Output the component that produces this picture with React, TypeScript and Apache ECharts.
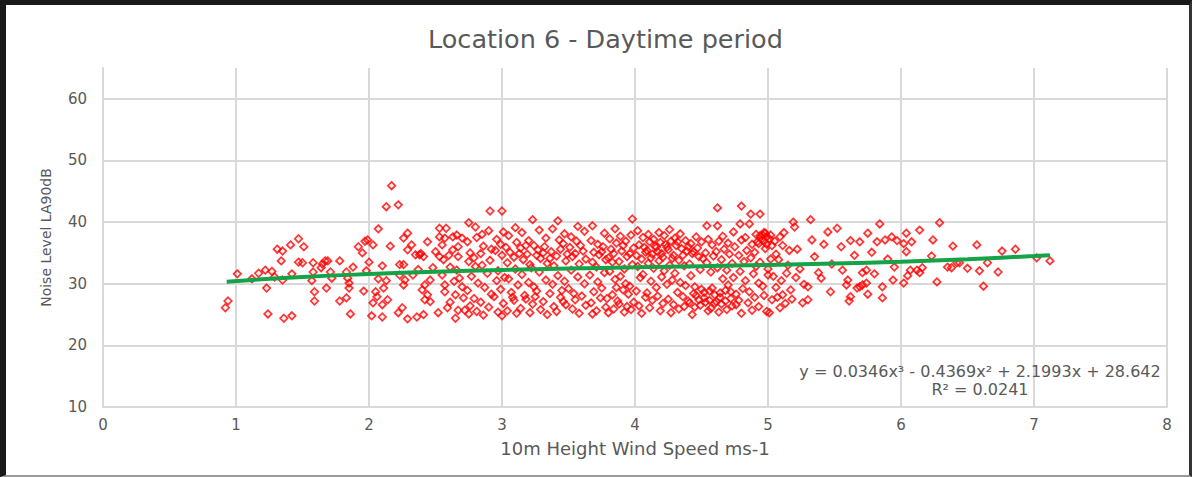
import { useEffect, useRef } from "react";
import * as echarts from "echarts";

const FONT = "'DejaVu Sans', sans-serif";
const TEXT = "#595959";
const GRID = "#d9d9d9";

const titleText = "Location 6 - Daytime period";
const xAxisName = "10m Height Wind Speed ms-1";
const yAxisName = "Noise Level LA90dB";
const equationText = "y = 0.0346x³ - 0.4369x² + 2.1993x + 28.642";
const r2Text = "R² = 0.0241";

// Wind speed 0.9 – 2.25 m/s
const windBand1: [number, number][] = [
  [0.92, 26.1], [0.94, 27.2], [1.01, 31.6], [1.12, 30.8], [1.17, 31.7], [1.22, 32.2], [1.23, 29.3],
  [1.24, 25.1], [1.27, 32.0], [1.29, 31.1], [1.31, 35.6], [1.34, 33.7], [1.35, 35.3], [1.35, 30.6],
  [1.36, 24.4], [1.41, 36.3], [1.42, 31.6], [1.42, 24.8], [1.47, 37.3], [1.47, 33.5], [1.5, 33.4],
  [1.51, 36.0], [1.57, 30.5], [1.58, 33.4], [1.58, 31.9], [1.59, 28.7], [1.59, 27.2], [1.64, 32.6],
  [1.65, 33.2], [1.67, 33.7], [1.68, 29.3], [1.69, 33.7], [1.71, 31.9], [1.72, 30.9], [1.78, 33.7],
  [1.78, 27.2], [1.83, 31.9], [1.83, 27.7], [1.84, 30.9], [1.85, 30.1], [1.85, 29.3], [1.86, 25.1],
  [1.88, 32.7], [1.92, 36.0], [1.95, 35.0], [1.96, 28.8], [1.97, 36.9], [1.98, 32.1], [1.99, 37.1],
  [2.0, 33.5], [2.02, 24.8], [2.03, 36.3], [2.03, 26.9], [2.05, 28.7], [2.06, 27.9], [2.07, 38.9],
  [2.07, 30.8], [2.1, 32.9], [2.1, 26.6], [2.1, 24.6], [2.11, 29.3], [2.13, 42.5], [2.13, 30.5],
  [2.14, 27.4], [2.16, 36.1], [2.17, 45.9], [2.22, 42.8], [2.22, 25.3], [2.23, 33.1], [2.23, 31.4],
];

// Wind speed 2.25 – 2.72 m/s
const windBand2: [number, number][] = [
  [2.25, 26.1], [2.26, 37.4], [2.26, 33.1], [2.26, 29.8], [2.27, 30.6], [2.29, 38.2], [2.29, 35.5],
  [2.29, 24.3], [2.32, 36.3], [2.33, 31.4], [2.35, 34.7], [2.36, 24.6], [2.37, 32.3], [2.38, 34.7],
  [2.4, 29.0], [2.41, 34.4], [2.41, 25.0], [2.42, 29.8], [2.42, 27.4], [2.44, 28.2], [2.44, 36.8],
  [2.46, 30.6], [2.46, 27.1], [2.48, 32.6], [2.5, 35.2], [2.52, 25.3], [2.53, 39.0], [2.53, 37.6],
  [2.53, 34.4], [2.55, 36.3], [2.55, 31.4], [2.56, 33.9], [2.57, 37.4], [2.57, 29.8], [2.57, 28.7],
  [2.58, 39.0], [2.59, 26.1], [2.61, 27.0], [2.61, 32.7], [2.63, 37.6], [2.63, 35.5], [2.65, 28.2],
  [2.65, 24.4], [2.66, 37.9], [2.66, 32.2], [2.67, 36.0], [2.67, 34.4], [2.67, 25.7], [2.68, 30.9],
  [2.7, 37.4], [2.7, 29.5], [2.71, 27.7], [2.72, 25.7], [2.39, 34.9], [2.6, 34.6], [2.64, 30.4],
];

// Wind speed 2.72 – 3.65 m/s
const windBand3: [number, number][] = [
  [2.75, 39.9], [2.74, 36.8], [2.76, 35.0], [2.75, 33.6], [2.77, 31.2], [2.74, 28.9], [2.76, 26.4], [2.75, 25.1],
  [2.8, 39.2], [2.81, 37.5], [2.79, 34.2], [2.8, 32.8], [2.82, 30.1], [2.79, 27.6], [2.81, 25.5],
  [2.85, 38.0], [2.86, 36.1], [2.84, 34.9], [2.85, 33.0], [2.87, 29.4], [2.84, 27.0], [2.86, 24.9],
  [2.91, 41.8], [2.9, 38.6], [2.92, 35.6], [2.91, 33.8], [2.89, 31.7], [2.92, 28.3], [2.9, 26.2],
  [2.96, 37.2], [2.95, 35.4], [2.97, 32.1], [2.96, 30.5], [2.94, 27.9], [2.97, 25.4],
  [3.0, 41.8], [3.01, 38.4], [2.99, 36.4], [3.0, 34.6], [3.02, 31.0], [2.99, 29.1], [3.01, 26.8], [3.0, 24.8],
  [3.05, 37.8], [3.06, 35.1], [3.04, 33.4], [3.05, 30.8], [3.07, 28.6], [3.04, 25.6],
  [3.1, 39.1], [3.11, 36.7], [3.09, 34.3], [3.1, 32.4], [3.12, 29.8], [3.09, 27.3], [3.11, 25.2],
  [3.15, 38.3], [3.14, 35.8], [3.16, 33.9], [3.15, 31.5], [3.17, 28.1], [3.14, 26.0],
  [3.2, 37.0], [3.19, 34.8], [3.21, 33.1], [3.2, 30.2], [3.18, 27.5], [3.21, 25.3],
  [3.23, 40.4], [3.24, 36.2], [3.22, 32.6], [3.24, 29.5], [3.23, 26.7],
  [3.28, 38.7], [3.27, 35.5], [3.29, 34.1], [3.28, 31.9], [3.26, 28.8], [3.29, 25.8],
  [3.33, 37.4], [3.32, 36.0], [3.34, 33.3], [3.33, 30.6], [3.31, 27.1], [3.34, 25.0],
  [3.38, 38.9], [3.37, 35.2], [3.39, 32.9], [3.38, 29.9], [3.36, 28.4], [3.39, 26.3],
  [3.42, 40.2], [3.43, 37.1], [3.41, 34.5], [3.42, 31.3], [3.44, 27.8], [3.41, 25.5],
  [3.47, 38.1], [3.46, 36.5], [3.48, 33.7], [3.47, 30.4], [3.45, 28.9], [3.48, 26.6],
  [3.52, 37.6], [3.51, 35.9], [3.53, 34.4], [3.52, 32.2], [3.5, 29.2], [3.53, 25.9],
  [3.57, 39.3], [3.56, 36.9], [3.58, 33.2], [3.57, 31.1], [3.55, 27.4], [3.58, 25.2],
  [3.62, 38.5], [3.61, 35.3], [3.63, 34.0], [3.62, 30.0], [3.6, 28.0], [3.63, 26.5],
  [3.03, 35.9], [3.13, 34.9], [3.18, 36.2], [3.26, 34.6], [3.31, 35.0], [3.36, 34.1], [3.44, 35.6],
  [3.49, 34.8], [3.55, 34.9], [3.59, 36.2], [3.08, 27.8], [3.25, 27.9], [3.46, 27.1], [3.54, 28.4],
];

// Wind speed 3.65 – 5.05 m/s
const windBand4: [number, number][] = [
  [3.68, 39.4], [3.67, 37.0], [3.69, 35.1], [3.68, 33.5], [3.66, 31.4], [3.69, 28.7], [3.67, 26.9], [3.68, 25.1],
  [3.72, 36.4], [3.73, 34.7], [3.71, 32.7], [3.72, 30.3], [3.74, 27.7], [3.71, 25.6],
  [3.77, 38.2], [3.76, 36.0], [3.78, 33.9], [3.77, 31.8], [3.75, 29.3], [3.78, 26.2],
  [3.81, 37.3], [3.82, 35.6], [3.8, 34.2], [3.81, 32.0], [3.83, 28.2], [3.8, 25.3],
  [3.85, 38.9], [3.86, 36.6], [3.84, 34.9], [3.85, 30.7], [3.87, 27.2], [3.84, 25.9],
  [3.89, 37.7], [3.9, 35.3], [3.88, 33.6], [3.89, 31.2], [3.91, 29.0], [3.88, 26.7],
  [3.93, 36.9], [3.94, 34.4], [3.92, 32.4], [3.93, 30.0], [3.95, 28.3], [3.92, 25.4],
  [3.98, 40.5], [3.97, 37.9], [3.99, 35.8], [3.98, 33.1], [3.96, 29.6], [3.99, 27.0], [3.97, 25.8],
  [4.02, 38.6], [4.03, 36.3], [4.01, 34.6], [4.02, 32.8], [4.04, 31.0], [4.01, 28.8], [4.03, 26.4],
  [4.06, 37.5], [4.07, 35.9], [4.05, 34.0], [4.06, 31.5], [4.08, 27.8], [4.05, 25.2],
  [4.1, 38.0], [4.11, 36.8], [4.09, 35.4], [4.1, 33.3], [4.12, 30.4], [4.09, 28.5], [4.11, 26.1],
  [4.14, 37.2], [4.15, 36.1], [4.13, 34.8], [4.14, 32.5], [4.16, 29.4], [4.13, 27.3],
  [4.18, 38.3], [4.19, 36.7], [4.17, 35.2], [4.18, 33.7], [4.2, 31.1], [4.17, 28.0], [4.19, 25.6],
  [4.22, 37.8], [4.23, 36.4], [4.21, 34.3], [4.22, 32.1], [4.24, 29.9], [4.21, 26.8],
  [4.26, 38.8], [4.27, 36.9], [4.25, 35.5], [4.26, 33.0], [4.28, 30.6], [4.25, 27.5], [4.27, 25.3],
  [4.3, 37.4], [4.31, 36.2], [4.29, 34.6], [4.3, 31.7], [4.32, 28.6], [4.29, 26.6],
  [4.34, 38.1], [4.35, 35.7], [4.33, 33.8], [4.34, 30.2], [4.36, 27.9], [4.33, 25.9],
  [4.38, 37.0], [4.39, 35.3], [4.37, 32.9], [4.38, 29.7], [4.4, 27.2], [4.37, 26.3],
  [4.42, 36.5], [4.43, 34.9], [4.41, 33.2], [4.42, 31.3], [4.44, 28.4], [4.41, 26.9], [4.43, 25.0],
  [4.46, 37.6], [4.47, 35.8], [4.45, 29.5], [4.46, 28.1], [4.48, 27.4], [4.45, 26.2],
  [4.5, 36.8], [4.51, 34.1], [4.49, 32.3], [4.5, 29.1], [4.52, 27.7], [4.49, 26.5],
  [4.54, 39.4], [4.55, 37.2], [4.53, 35.0], [4.54, 33.4], [4.56, 28.8], [4.53, 27.0], [4.55, 25.6],
  [4.58, 36.3], [4.59, 34.5], [4.57, 31.9], [4.58, 29.3], [4.6, 28.2], [4.57, 26.0],
  [4.62, 42.3], [4.62, 39.4], [4.63, 36.9], [4.61, 35.2], [4.62, 32.6], [4.64, 28.5], [4.61, 27.1], [4.63, 25.4],
  [4.66, 37.7], [4.67, 35.6], [4.65, 33.9], [4.66, 30.8], [4.68, 28.9], [4.65, 26.7],
  [4.7, 36.6], [4.71, 34.8], [4.69, 32.2], [4.7, 29.8], [4.72, 27.6], [4.69, 25.8],
  [4.74, 38.4], [4.75, 36.0], [4.73, 33.3], [4.74, 31.0], [4.76, 28.3], [4.73, 26.4],
  [4.8, 42.6], [4.79, 39.7], [4.8, 37.1], [4.78, 34.6], [4.79, 32.0], [4.81, 29.2], [4.78, 27.3], [4.8, 25.2],
  [4.83, 37.5], [4.84, 35.4], [4.82, 33.6], [4.83, 30.5], [4.85, 26.9],
  [4.87, 41.3], [4.86, 39.7], [4.88, 36.4], [4.87, 34.2], [4.89, 31.6], [4.86, 28.7], [4.88, 25.7],
  [4.91, 38.0], [4.92, 36.8], [4.9, 35.1], [4.91, 32.8], [4.93, 30.1], [4.9, 27.8],
  [4.94, 41.3], [4.94, 37.8], [4.95, 37.2], [4.93, 36.5], [4.94, 33.5], [4.96, 29.6], [4.93, 26.3],
  [4.98, 38.2], [4.99, 37.6], [4.97, 36.9], [4.98, 35.7], [5.0, 32.4], [4.97, 28.1], [4.99, 25.5],
  [5.02, 37.9], [5.01, 37.3], [5.03, 36.2], [5.02, 34.0], [5.0, 31.4], [5.03, 27.4], [5.01, 25.3],
  [4.08, 35.1], [4.12, 34.2], [4.16, 35.9], [4.2, 34.9], [4.24, 35.9], [4.28, 34.1], [4.32, 36.8],
  [4.36, 34.6], [4.4, 36.0], [4.44, 35.2], [4.48, 34.4], [4.96, 37.9], [4.97, 38.3], [4.99, 36.4],
  [3.75, 35.2], [3.83, 33.5], [3.91, 36.2], [3.96, 34.9], [4.52, 28.6], [4.56, 27.3], [4.6, 26.8],
  [4.64, 27.8], [4.68, 27.2], [4.72, 28.7], [4.76, 26.6], [3.79, 27.6], [3.86, 29.4], [3.94, 26.3],
];

// Wind speed 5.05 – 6.45 m/s
const windBand5: [number, number][] = [
  [5.05, 36.9], [5.04, 31.2], [5.06, 29.4], [5.06, 34.8], [5.07, 27.8], [5.08, 33.9], [5.09, 26.1],
  [5.09, 37.6], [5.1, 30.5], [5.11, 28.2], [5.11, 36.2], [5.12, 38.3], [5.13, 26.8], [5.14, 31.7],
  [5.15, 33.0], [5.16, 35.4], [5.17, 29.0], [5.18, 27.5], [5.19, 40.0], [5.2, 39.2], [5.21, 31.0],
  [5.22, 35.6], [5.24, 32.4], [5.26, 26.9], [5.27, 29.9], [5.3, 29.5], [5.3, 27.4], [5.32, 40.4],
  [5.33, 37.1], [5.35, 34.4], [5.38, 31.8], [5.4, 30.9], [5.42, 36.4], [5.45, 38.4], [5.47, 28.7],
  [5.48, 33.2], [5.52, 39.0], [5.55, 36.0], [5.56, 32.2], [5.59, 29.8], [5.6, 30.6], [5.61, 27.2],
  [5.62, 37.0], [5.62, 27.9], [5.65, 34.6], [5.67, 29.3], [5.69, 36.8], [5.69, 29.5], [5.71, 29.8],
  [5.71, 31.8], [5.74, 32.2], [5.74, 30.1], [5.75, 38.2], [5.75, 28.3], [5.78, 35.1], [5.8, 31.6],
  [5.82, 36.8], [5.84, 39.7], [5.86, 29.5], [5.86, 27.7], [5.88, 37.1], [5.9, 34.0], [5.93, 37.6],
  [5.94, 30.6], [5.95, 32.7], [5.97, 37.0], [6.02, 36.5], [6.02, 30.1], [6.04, 38.2], [6.04, 35.2],
  [6.05, 31.3], [6.07, 32.2], [6.08, 36.8], [6.12, 32.2], [6.14, 38.7], [6.14, 31.8], [6.16, 32.6],
  [6.23, 34.5], [6.24, 37.1], [6.27, 30.3], [6.29, 39.9], [6.35, 32.7], [6.38, 32.6], [6.39, 36.1],
  [6.42, 33.4],
];

// Wind speed 6.45 – 7.12 m/s
const windBand6: [number, number][] = [
  [6.44, 33.4], [6.5, 32.5], [6.57, 36.3], [6.59, 32.1], [6.62, 29.6], [6.65, 33.4], [6.73, 31.9],
  [6.76, 35.3], [6.86, 35.6], [7.02, 34.2], [7.12, 33.7],
];

// Trendline values
const trendX = [0.93, 1.5, 2, 2.5, 3, 3.5, 4, 4.5, 5, 5.5, 6, 6.5, 7, 7.12];
const trendY = [30.34, 31.08, 31.57, 31.95, 32.24, 32.47, 32.66, 32.85, 33.04, 33.28, 33.58, 33.98, 34.5, 34.64];

export default function App() {
  const ref = useRef<HTMLDivElement>(null);

  useEffect(() => {
    if (!ref.current) return;
    const chart = echarts.init(ref.current, null, { renderer: "svg" });
    const scatterData = [...windBand1, ...windBand2, ...windBand3, ...windBand4, ...windBand5, ...windBand6];
    const trendData = trendX.map((x, i) => [x, trendY[i]]);

    chart.setOption({
      animation: false,
      backgroundColor: "#ffffff",
      textStyle: { fontFamily: FONT },
      title: {
        text: titleText,
        left: 423,
        top: 21,
        textStyle: { fontFamily: FONT, fontSize: 25.5, fontWeight: "normal", color: TEXT },
      },
      grid: { left: 103, right: 25, top: 68, bottom: 70 },
      xAxis: {
        type: "value",
        min: 0,
        max: 8,
        interval: 1,
        name: xAxisName,
        nameLocation: "middle",
        nameGap: 32,
        nameTextStyle: { fontFamily: FONT, fontSize: 18, color: TEXT },
        axisLine: { show: true, lineStyle: { color: GRID, width: 2 } },
        axisTick: { show: false },
        axisLabel: { fontFamily: FONT, fontSize: 15, color: TEXT, margin: 10 },
        splitLine: { show: true, lineStyle: { color: GRID, width: 2 } },
      },
      yAxis: {
        type: "value",
        min: 10,
        max: 65,
        interval: 10,
        name: yAxisName,
        nameLocation: "middle",
        nameGap: 50,
        nameTextStyle: { fontFamily: FONT, fontSize: 14, color: TEXT },
        axisLine: { show: true, lineStyle: { color: GRID, width: 2 } },
        axisTick: { show: false },
        axisLabel: { fontFamily: FONT, fontSize: 15, color: TEXT, margin: 16, showMaxLabel: false },
        splitLine: { show: true, showMaxLine: false, lineStyle: { color: GRID, width: 2 } },
      },
      series: [
        {
          type: "scatter",
          data: scatterData,
          symbol: "diamond",
          symbolSize: 7.5,
          itemStyle: { color: "rgba(255,0,0,0.08)", borderColor: "#ff0000", borderWidth: 1.7 },
          z: 2,
        },
        {
          type: "line",
          data: trendData,
          smooth: true,
          symbol: "none",
          lineStyle: { color: "#14a347", width: 4 },
          z: 3,
        },
      ],
      graphic: [
        {
          type: "text",
          x: 980,
          y: 371,
          style: {
            text: equationText,
            fontFamily: FONT,
            fontSize: 16,
            lineHeight: 15,
            fill: TEXT,
            textAlign: "center",
            textVerticalAlign: "middle",
          },
          z: 10,
        },
        {
          type: "text",
          x: 980,
          y: 389,
          style: {
            text: r2Text,
            fontFamily: FONT,
            fontSize: 16,
            lineHeight: 15,
            fill: TEXT,
            textAlign: "center",
            textVerticalAlign: "middle",
          },
          z: 10,
        },
      ],
    });

    return () => chart.dispose();
  }, []);

  return (
    <div style={{ position: "absolute", left: 0, top: 0, width: 1192, height: 477, background: "#fff" }}>
      <div ref={ref} style={{ position: "absolute", left: 0, top: 0, width: 1192, height: 477 }} />
      <div
        style={{
          position: "absolute",
          left: 0,
          top: 0,
          width: 1192,
          height: 477,
          boxSizing: "border-box",
          borderTop: "5px solid #1a1a1a",
          borderLeft: "6px solid #1a1a1a",
          borderRight: "3px solid #333333",
          borderBottom: "2px solid #9a9a9a",
          pointerEvents: "none",
        }}
      />
    </div>
  );
}
